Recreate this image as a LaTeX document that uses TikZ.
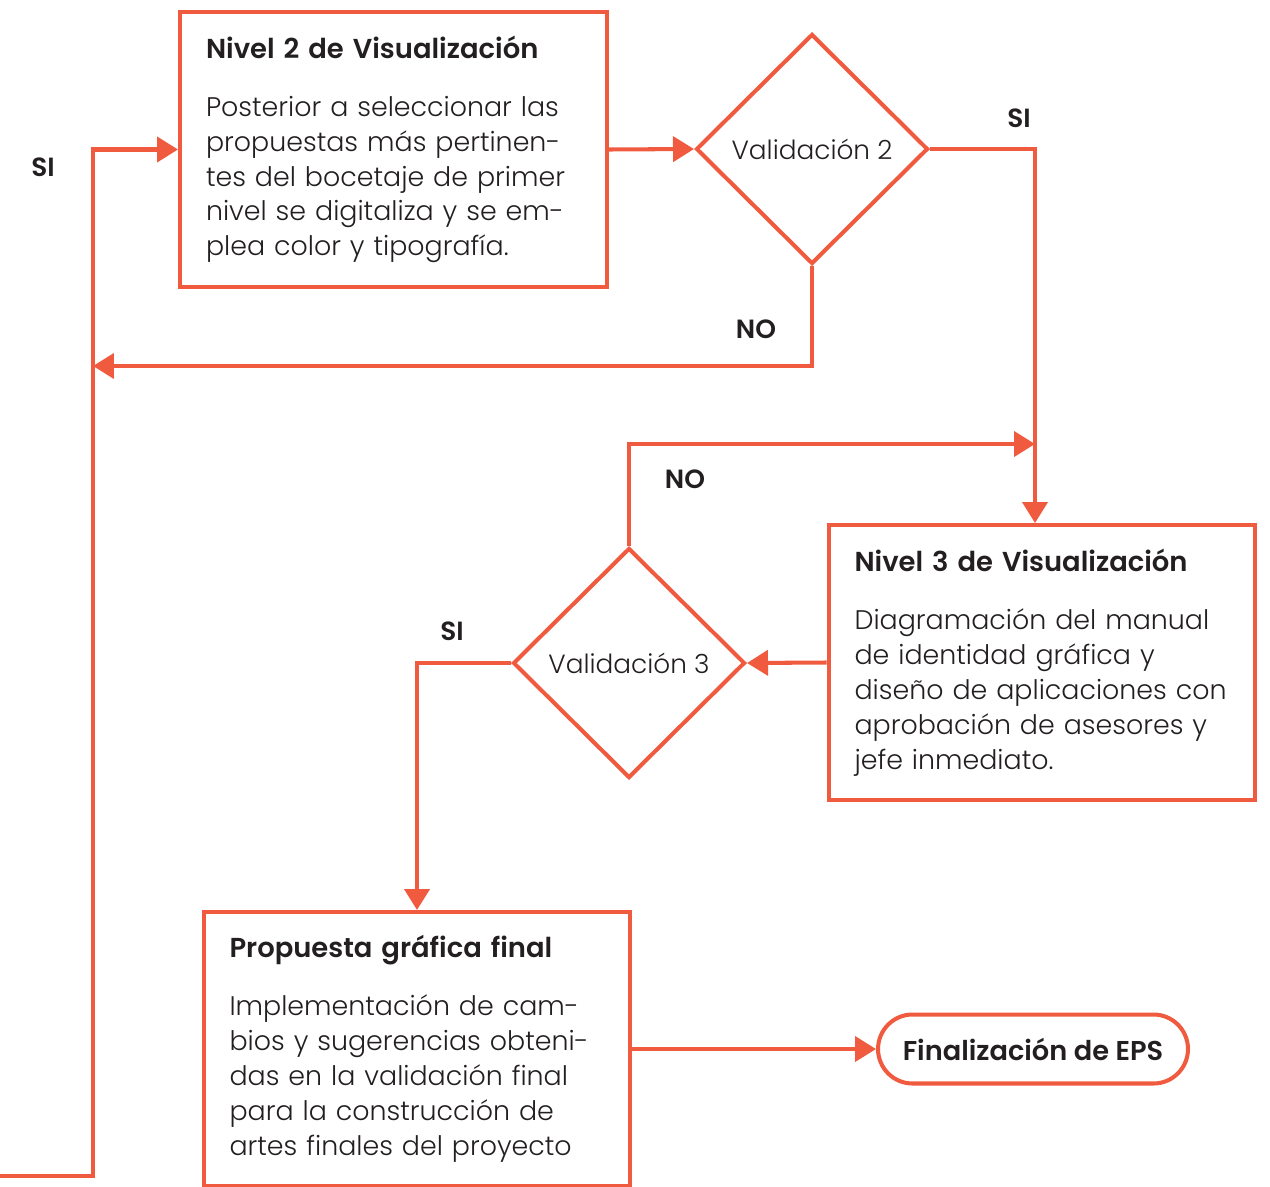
\documentclass[tikz,border=0pt]{standalone}
\usepackage{fontspec}
\setmainfont{Poppins Light}[BoldFont={Poppins SemiBold}]
\usepackage{tikz}
\usetikzlibrary{positioning,shapes,arrows.meta}

\definecolor{epsorange}{RGB}{240,90,62}
\definecolor{epstext}{RGB}{35,31,32}

\tikzset{
  stage/.style={rectangle, draw=epsorange, line width=2.3pt, text=epstext,
    minimum width=8.54cm, minimum height=5.5cm, text width=7.5cm,
    inner xsep=0.5cm, align=left, font=\fontsize{15.3}{19.9}\selectfont},
  check/.style={diamond, draw=epsorange, line width=2.3pt, text=epstext,
    minimum width=4.64cm, minimum height=4.6cm, inner sep=0pt,
    font=\fontsize{15}{18}\selectfont},
  finish/.style={rectangle, rounded corners=0.69cm, draw=epsorange, line width=2.3pt,
    text=epstext, minimum width=6.2cm, minimum height=1.38cm,
    font=\fontsize{15.5}{18}\selectfont\bfseries},
  answer/.style={text=epstext, font=\fontsize{15}{18}\selectfont\bfseries},
  flow/.style={draw=epsorange, line width=2.3pt, -{Triangle[length=0.42cm,width=0.5cm]}}
}

\begin{document}
\begin{tikzpicture}[x=0.02cm, y=-0.02cm]
  \useasboundingbox (0,0) rectangle (1270,1186);

  % steps
  \node[stage] (n2) at (393.5,149.5) {{\fontsize{15.6}{19.9}\selectfont\textbf{Nivel 2 de Visualización}}\\[13pt]
    Posterior a seleccionar las\\ propuestas más pertinen-\\ tes del bocetaje de primer\\
    nivel se digitaliza y se em-\\ plea color y tipografía.};
  \node[stage] (n3) at (1042,662.5) {{\fontsize{15.6}{19.9}\selectfont\textbf{Nivel 3 de Visualización}}\\[13pt]
    Diagramación del manual\\ de identidad gráfica y\\ diseño de aplicaciones con\\
    aprobación de asesores y\\ jefe inmediato.};
  \node[stage, minimum height=5.48cm] (pf) at (417,1049) {{\fontsize{15.6}{19.9}\selectfont\textbf{Propuesta gráfica final}}\\[13pt]
    Implementación de cam-\\ bios y sugerencias obteni-\\ das en la validación final\\
    para la construcción de\\ artes finales del proyecto};

  % decisions
  \node[check] (v2) at (812,149) {Validación 2};
  \node[check] (v3) at (629,663) {Validación 3};

  \node[finish] (eps) at (1033,1049) {Finalización de EPS};

  % junctions
  \coordinate (j1) at (93,366);
  \coordinate (j3) at (1035,444);
  \coordinate (loop) at (0,1176);

  % connectors
  \draw[flow] (n2.east) -- (v2.west);
  \draw[flow] (v2.east) -| (j3) -- (j3 |- n3.north);
  \draw[flow] (v2.south) |- (j1);
  \draw[flow] (loop) -| (j1) |- (n2.west);
  \draw[flow] (n3.west) -- (v3.east);
  \draw[flow] (v3.north) |- (j3);
  \draw[flow] (v3.west) -| (pf.north);
  \draw[flow] (pf.east) -- (eps.west);

  % labels
  \node[answer] (si1) at (43,167) {SI};
  \node[answer] (si2) at (1019,118) {SI};
  \node[answer] (no2) at (756,329) {NO};
  \node[answer] (no3) at (685,479) {NO};
  \node[answer] (si3) at (452,631) {SI};
\end{tikzpicture}
\end{document}
